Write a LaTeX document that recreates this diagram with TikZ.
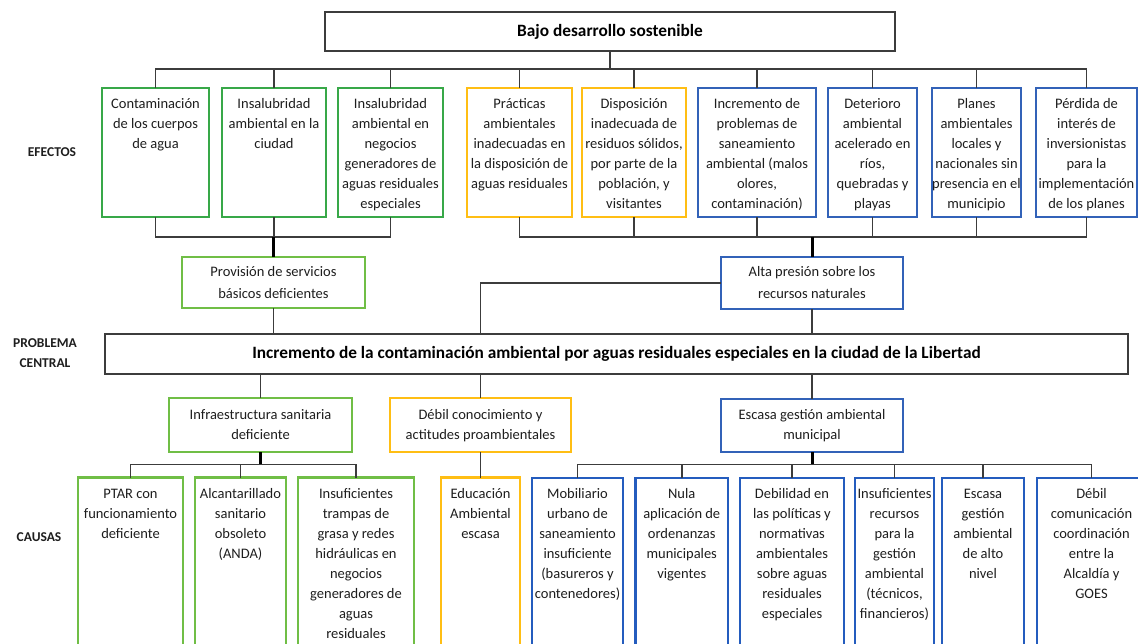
\documentclass[tikz,border=0pt]{standalone}
\usepackage{fontspec}
\setmainfont{Carlito}
\definecolor{gA}{RGB}{56,168,72}
\definecolor{gB}{RGB}{112,190,70}
\definecolor{yA}{RGB}{255,190,20}
\definecolor{bA}{RGB}{50,98,184}
\definecolor{bB}{RGB}{36,92,190}
\definecolor{linec}{RGB}{60,60,60}
\definecolor{txt}{RGB}{30,30,30}
\newcommand\mkbox[6]{\node[boxst,draw=#2,minimum width={#5-#3},minimum height={#6-#4}] (#1) at ({(#3+#5)/2},{(#4+#6)/2}) {};}
\begin{document}
\begin{tikzpicture}[x=1pt,y=-1pt,
  conn/.style={draw=linec,line width=1.7pt},
  thk/.style={draw=black,line width=3pt},
  boxst/.style={rectangle,line width=2.4pt,inner sep=0pt,outer sep=0pt,fill=white},
  plainbox/.style={rectangle,draw=linec,line width=2pt,inner sep=0pt,outer sep=0pt,fill=white},
  btext/.style={anchor=north,align=center,inner sep=0pt,text=txt,font=\fontsize{14.5}{20}\selectfont},
  mtextA/.style={anchor=north,align=center,inner sep=0pt,text=txt,font=\fontsize{14.5}{22.5}\selectfont},
  mtextB/.style={anchor=north,align=center,inner sep=0pt,text=txt,font=\fontsize{14.5}{20}\selectfont},
  side/.style={align=center,inner sep=0pt,text=txt,font=\bfseries\fontsize{13.5}{20}\selectfont},
  title/.style={inner sep=0pt,text=black,font=\bfseries\fontsize{17.3}{20}\selectfont}
]
\useasboundingbox (0,0) rectangle (1138,643);
\clip (0,0) rectangle (1138,643);
\fill[white] (0,0) rectangle (1138,643);

% coordinates of buses
\coordinate (tb) at (0,69);
\coordinate (bb) at (0,237);
\coordinate (cb) at (0,464.5);

% top and central boxes
\node[plainbox,minimum width=570,minimum height=39] (top) at (610,31.5) {};
\node[title] (toptxt) at (top.center) {Bajo desarrollo sostenible};
\node[plainbox,minimum width=1023,minimum height=40] (cen) at (616.5,354) {};
\node[title] (centxt) at (cen.center) {Incremento de la contaminación ambiental por aguas residuales especiales en la ciudad de la Libertad};

% effects boxes
\mkbox{e1}{gA}{102}{88}{209}{217}
\mkbox{e2}{gA}{222}{88}{326}{217}
\mkbox{e3}{gA}{338}{88}{443}{217}
\mkbox{e4}{yA}{467}{88}{572}{217}
\mkbox{e5}{yA}{582}{88}{686}{217}
\mkbox{e6}{bA}{698}{88}{816}{217}
\mkbox{e7}{bA}{828}{88}{917}{217}
\mkbox{e8}{bA}{932}{88}{1021}{217}
\mkbox{e9}{bA}{1036}{88}{1137}{217}

% middle boxes
\mkbox{prov}{gB}{182}{257}{365}{308}
\mkbox{alta}{bA}{721}{257}{903}{309}
\mkbox{infra}{gB}{169}{398}{352}{452}
\mkbox{deb}{yA}{390}{398}{571}{452}
\mkbox{esc}{bA}{721}{399}{903}{452}

% causes boxes
\mkbox{c1}{gB}{78}{477.5}{183}{670}
\mkbox{c2}{gB}{195}{477.5}{286}{670}
\mkbox{c3}{gB}{298}{477.5}{414}{670}
\mkbox{c4}{yA}{441}{477.5}{520}{670}
\mkbox{c5}{bB}{532}{478}{623}{670}
\mkbox{c6}{bB}{635.5}{478}{728}{670}
\mkbox{c7}{bB}{740}{478}{844}{670}
\mkbox{c8}{bB}{855}{478}{934}{670}
\mkbox{c9}{bB}{942}{478}{1024}{670}
\mkbox{c10}{bB}{1037}{478}{1146}{670}

% connectors top
\draw[conn] (top.south) -- (top.south |- tb);
\draw[conn] (e1.north) -- (e1.north |- tb) -- (e9.north |- tb) -- (e9.north);
\foreach \n in {e2,e3,e4,e5,e6,e7,e8} \draw[conn] (\n.north) -- (\n.north |- tb);
% connectors bottom of effects
\draw[conn] (e1.south) -- (e1.south |- bb) -- (e3.south |- bb) -- (e3.south);
\draw[conn] (e2.south) -- (e2.south |- bb);
\draw[conn] (e4.south) -- (e4.south |- bb) -- (e9.south |- bb) -- (e9.south);
\foreach \n in {e5,e6,e7,e8} \draw[conn] (\n.south) -- (\n.south |- bb);
\draw[thk] (prov.north |- bb) -- (prov.north);
\draw[thk] (alta.north |- bb) -- (alta.north);
% to central problem
\draw[conn] (prov.south) -- (prov.south |- cen.north);
\draw[conn] (alta.south) -- (alta.south |- cen.north);
\draw[conn] (alta.west) -| (deb.north |- cen.north);
\draw[conn] (cen.south -| infra.north) -- (infra.north);
\draw[conn] (cen.south -| deb.north) -- (deb.north);
\draw[conn] (cen.south -| esc.north) -- (esc.north);
% causes
\draw[thk] (infra.south) -- (infra.south |- cb);
\draw[conn] (c1.north) -- (c1.north |- cb) -- (c3.north |- cb) -- (c3.north);
\draw[conn] (c2.north) -- (c2.north |- cb);
\draw[conn] (deb.south) -- (c4.north);
\draw[thk] (esc.south) -- (esc.south |- cb);
\draw[conn] (c5.north) -- (c5.north |- cb) -- (c10.north |- cb) -- (c10.north);
\foreach \n in {c6,c7,c8,c9} \draw[conn] (\n.north) -- (\n.north |- cb);

% side labels
\node[side] (lef) at (52,152) {EFECTOS};
\node[side] (lpc) at (45,353) {PROBLEMA\\CENTRAL};
\node[side] (lca) at (39,537) {CAUSAS};

% effects texts
\node[btext] (te1) at (e1.north |- 0,94.5) {\strut Contaminación\\de los cuerpos\\de agua};
\node[btext] (te2) at (e2.north |- 0,94.5) {\strut Insalubridad\\ambiental en la\\ciudad};
\node[btext] (te3) at (e3.north |- 0,94.5) {\strut Insalubridad\\ambiental en\\negocios\\generadores de\\aguas residuales\\especiales};
\node[btext] (te4) at (e4.north |- 0,94.5) {\strut Prácticas\\ambientales\\inadecuadas en\\la disposición de\\aguas residuales};
\node[btext] (te5) at (e5.north |- 0,94.5) {\strut Disposición\\inadecuada de\\residuos sólidos,\\por parte de la\\población, y\\visitantes};
\node[btext] (te6) at (e6.north |- 0,94.5) {\strut Incremento de\\problemas de\\saneamiento\\ambiental (malos\\olores,\\contaminación)};
\node[btext] (te7) at (e7.north |- 0,94.5) {\strut Deterioro\\ambiental\\acelerado en\\ríos,\\quebradas y\\playas};
\node[btext] (te8) at (e8.north |- 0,94.5) {\strut Planes\\ambientales\\locales y\\nacionales sin\\presencia en el\\municipio};
\node[btext] (te9) at (e9.north |- 0,94.5) {\strut Pérdida de\\interés de\\inversionistas\\para la\\implementación\\de los planes};

% middle texts
\node[mtextA] (tprov) at (prov.north |- 0,260.5) {\strut Provisión de servicios\\básicos deficientes};
\node[mtextA] (talta) at (alta.north |- 0,260.5) {\strut Alta presión sobre los\\recursos naturales};
\node[mtextB] (tinfra) at (infra.north |- 0,405) {\strut Infraestructura sanitaria\\deficiente};
\node[mtextB] (tdeb) at (deb.north |- 0,405) {\strut Débil conocimiento y\\actitudes proambientales};
\node[mtextB] (tesc) at (esc.north |- 0,405) {\strut Escasa gestión ambiental\\municipal};

% causes texts
\node[btext] (tc1) at (c1.north |- 0,484) {\strut PTAR con\\funcionamiento\\deficiente};
\node[btext] (tc2) at (c2.north |- 0,484) {\strut Alcantarillado\\sanitario\\obsoleto\\(ANDA)};
\node[btext] (tc3) at (c3.north |- 0,484) {\strut Insuficientes\\trampas de\\grasa y redes\\hidráulicas en\\negocios\\generadores de\\aguas\\residuales};
\node[btext] (tc4) at (c4.north |- 0,484) {\strut Educación\\Ambiental\\escasa};
\node[btext] (tc5) at (c5.north |- 0,484) {\strut Mobiliario\\urbano de\\saneamiento\\insuficiente\\(basureros y\\contenedores)};
\node[btext] (tc6) at (c6.north |- 0,484) {\strut Nula\\aplicación de\\ordenanzas\\municipales\\vigentes};
\node[btext] (tc7) at (c7.north |- 0,484) {\strut Debilidad en\\las políticas y\\normativas\\ambientales\\sobre aguas\\residuales\\especiales};
\node[btext] (tc8) at (c8.north |- 0,484) {\strut Insuficientes\\recursos\\para la\\gestión\\ambiental\\(técnicos,\\financieros)};
\node[btext] (tc9) at (c9.north |- 0,484) {\strut Escasa\\gestión\\ambiental\\de alto\\nivel};
\node[btext] (tc10) at (c10.north |- 0,484) {\strut Débil\\comunicación\\coordinación\\entre la\\Alcaldía y\\GOES};
\end{tikzpicture}
\end{document}
